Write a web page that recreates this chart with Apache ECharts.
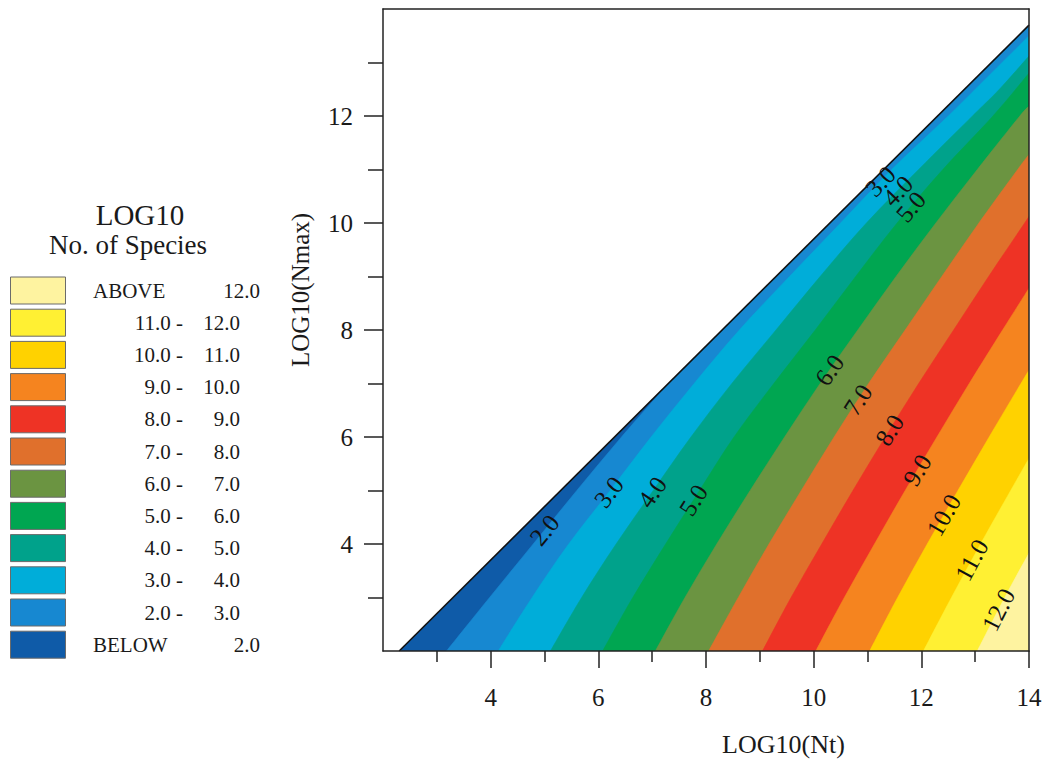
<!DOCTYPE html>
<html>
<head>
<meta charset="utf-8">
<script src="https://cdn.jsdelivr.net/npm/echarts@6/dist/echarts.min.js"></script>
<style>
html, body { margin: 0; padding: 0; background: #ffffff; }
#chart { width: 1042px; height: 760px; }
</style>
</head>
<body>
<div id="chart"></div>
<script>
// Contour levels of log10(number of species)
const levels = [2, 3, 4, 5, 6, 7, 8, 9, 10, 11, 12];

// Fill colour of each band, from "below 2.0" up to "above 12.0"
const bandColors = ['#0F5BA8', '#1788D1', '#00ADD9', '#00A28B', '#00A651', '#6B9441',
                    '#E0702C', '#EE3325', '#F5841F', '#FFD200', '#FFF033', '#FEF3A0'];

// Axis ranges and labelled ticks
const xRange = [2, 14];
const yRange = [2, 14];
const xTickLabels = [4, 6, 8, 10, 12, 14];
const yTickLabels = [4, 6, 8, 10, 12];

// Upper limit of the valid region: Nmax = Nt / 2
const limitLine = [[2.301, 2], [14, 13.699]];

// Contour lines as [log10(Nt), log10(Nmax)], from the bottom edge upward
const contour2 = [[3.18, 2], [3.98, 3], [4.79, 4], [5.60, 5], [6.43, 6], [7.30, 7]];
const contour3 = [[4.14, 2], [4.77, 3], [5.45, 4], [6.22, 5], [6.98, 6], [7.78, 7], [8.62, 8],
                  [9.55, 9], [10.50, 10], [11.45, 11], [12.50, 12], [13.50, 13], [14, 13.5]];
const contour4 = [[5.11, 2], [5.69, 3], [6.33, 4], [7.02, 5], [7.72, 6], [8.48, 7], [9.30, 8],
                  [10.12, 9], [10.98, 10], [11.95, 11], [12.95, 12], [13.45, 12.5], [14, 13.12]];
const contour5 = [[6.08, 2], [6.64, 3], [7.25, 4], [7.88, 5], [8.52, 6], [9.26, 7], [10.03, 8],
                  [10.78, 9], [11.55, 10], [12.40, 11], [13.33, 12], [14, 12.8]];
const contour6 = [[7.06, 2], [7.61, 3], [8.20, 4], [8.82, 5], [9.46, 6], [10.12, 7], [10.82, 8],
                  [11.53, 9], [12.27, 10], [13.04, 11], [13.83, 12], [14, 12.18]];
const contour7 = [[8.05, 2], [8.60, 3], [9.17, 4], [9.77, 5], [10.38, 6], [11.02, 7], [11.70, 8],
                  [12.38, 9], [13.07, 10], [13.79, 11], [14, 11.28]];
const contour8 = [[9.05, 2], [9.58, 3], [10.15, 4], [10.73, 5], [11.33, 6], [11.95, 7], [12.60, 8],
                  [13.25, 9], [13.92, 10], [14, 10.12]];
const contour9 = [[10.04, 2], [10.57, 3], [11.13, 4], [11.70, 5], [12.29, 6], [12.89, 7], [13.51, 8],
                  [14, 8.78]];
const contour10 = [[11.04, 2], [11.56, 3], [12.11, 4], [12.68, 5], [13.26, 6], [13.85, 7], [14, 7.25]];
const contour11 = [[12.04, 2], [12.56, 3], [13.10, 4], [13.66, 5], [14, 5.6]];
const contour12 = [[13.04, 2], [13.55, 3], [14, 3.83]];

const contours = [contour2, contour3, contour4, contour5, contour6, contour7,
                  contour8, contour9, contour10, contour11, contour12];

// In-line contour labels: level and the log10(Nmax) where each sits
const labelLevels = [2, 3, 4, 5, 3, 4, 5, 6, 7, 8, 9, 10, 11, 12];
const labelYs = [4.26, 4.97, 4.97, 4.82, 10.78, 10.60, 10.30, 7.25, 6.69, 6.13, 5.38, 4.54, 3.70, 2.77];

const serif = 'Liberation Serif';
const ink = '#1a1a1a';

// Smooth path through pixel points (Catmull-Rom as cubic Bezier segments)
function smoothPath(pts) {
  let d = 'M' + pts[0][0] + ' ' + pts[0][1];
  for (let i = 0; i < pts.length - 1; i++) {
    const p0 = pts[Math.max(i - 1, 0)], p1 = pts[i], p2 = pts[i + 1];
    const p3 = pts[Math.min(i + 2, pts.length - 1)];
    const c1 = [p1[0] + (p2[0] - p0[0]) / 6, p1[1] + (p2[1] - p0[1]) / 6];
    const c2 = [p2[0] - (p3[0] - p1[0]) / 6, p2[1] - (p3[1] - p1[1]) / 6];
    d += ' C' + c1[0] + ' ' + c1[1] + ' ' + c2[0] + ' ' + c2[1] + ' ' + p2[0] + ' ' + p2[1];
  }
  return d;
}

// Region right of / below a contour, closed along the limit line and the right edge
function bandPath(idx, api) {
  const corner = api.coord([xRange[1], yRange[0]]);
  if (idx === 0) {
    const a = api.coord(limitLine[0]), b = api.coord(limitLine[1]);
    return 'M' + a[0] + ' ' + a[1] + ' L' + b[0] + ' ' + b[1] + ' L' + corner[0] + ' ' + corner[1] + ' Z';
  }
  const c = contours[idx - 1];
  let d = smoothPath(c.map(p => api.coord(p)));
  if (c[c.length - 1][0] < xRange[1]) {
    const b = api.coord(limitLine[1]);
    d += ' L' + b[0] + ' ' + b[1];
  }
  return d + ' L' + corner[0] + ' ' + corner[1] + ' Z';
}

// Unshaded region above the limit line
function emptyRegion(api) {
  return [api.coord([xRange[0], yRange[0]]), api.coord(limitLine[0]), api.coord(limitLine[1]),
          api.coord([xRange[1], yRange[1]]), api.coord([xRange[0], yRange[1]])];
}

// Point on a contour at a given log10(Nmax), with the segment it lies on
function onContour(c, y) {
  for (let i = 0; i < c.length - 1; i++) {
    const a = c[i], b = c[i + 1];
    if (y >= a[1] && y <= b[1]) {
      const t = (y - a[1]) / (b[1] - a[1]);
      return { p: [a[0] + t * (b[0] - a[0]), y], a: a, b: b };
    }
  }
  return { p: c[c.length - 1], a: c[c.length - 2], b: c[c.length - 1] };
}

// Legend rows, top to bottom
const legendLeft = ['ABOVE'];
const legendRight = [levels[levels.length - 1].toFixed(1)];
for (let i = levels.length - 2; i >= 0; i--) {
  legendLeft.push(levels[i].toFixed(1) + ' -');
  legendRight.push(levels[i + 1].toFixed(1));
}
legendLeft.push('BELOW');
legendRight.push(levels[0].toFixed(1));

function textStyle(text, size, align) {
  return { text: text, font: size + 'px ' + serif, fill: ink,
    align: align, textAlign: align, verticalAlign: 'middle', textVerticalAlign: 'middle' };
}

const legendGraphics = [
  { type: 'text', x: 140, y: 215, style: textStyle('LOG10', 29, 'center') },
  { type: 'text', x: 128, y: 245, style: textStyle('No. of Species', 27, 'center') }
];
legendLeft.forEach((txt, i) => {
  const top = 277 + i * 32.2;
  const cy = top + 13.5;
  const colour = bandColors[bandColors.length - 1 - i];
  const edge = (i === 0 || i === legendLeft.length - 1);
  legendGraphics.push({ type: 'rect', shape: { x: 10.5, y: top, width: 55, height: 27 },
    style: { fill: colour, stroke: '#6b6b6b', lineWidth: 1 } });
  legendGraphics.push({ type: 'text', x: edge ? 93 : 183, y: cy,
    style: textStyle(txt, 21, edge ? 'left' : 'right') });
  legendGraphics.push({ type: 'text', x: edge ? 260 : 240, y: cy,
    style: textStyle(legendRight[i], 21, 'right') });
});

const axisColor = '#222222';
const chart = echarts.init(document.getElementById('chart'), null, { renderer: 'svg' });

chart.setOption({
  animation: false,
  backgroundColor: '#ffffff',
  grid: { left: 383, top: 9, width: 646, height: 642, containLabel: false, outerBoundsMode: 'none' },
  xAxis: [{
    type: 'value', min: xRange[0], max: xRange[1], interval: 2, z: 10,
    name: 'LOG10(Nt)', nameLocation: 'middle', nameGap: 80,
    nameTextStyle: { fontFamily: serif, fontSize: 26, color: ink, padding: [0, 0, 0, 155] },
    axisLine: { show: true, onZero: false, lineStyle: { color: axisColor, width: 1.5 } },
    axisTick: { show: true, length: 17, customValues: xTickLabels, lineStyle: { color: axisColor, width: 1.5 } },
    minorTick: { show: true, splitNumber: 2, length: 11, lineStyle: { color: axisColor, width: 1.5 } },
    axisLabel: { customValues: xTickLabels, margin: 34, fontFamily: serif, fontSize: 25, color: ink },
    splitLine: { show: false }, minorSplitLine: { show: false }
  }, {
    type: 'value', position: 'top', min: xRange[0], max: xRange[1], z: 10,
    axisLine: { show: true, onZero: false, lineStyle: { color: axisColor, width: 1.5 } },
    axisTick: { show: false }, axisLabel: { show: false }, splitLine: { show: false }
  }],
  yAxis: [{
    type: 'value', min: yRange[0], max: yRange[1], interval: 2, z: 10,
    name: 'LOG10(Nmax)', nameLocation: 'middle', nameGap: 70, nameRotate: 90,
    nameTextStyle: { fontFamily: serif, fontSize: 25, color: ink, padding: [0, 0, 0, 80] },
    axisLine: { show: true, onZero: false, lineStyle: { color: axisColor, width: 1.5 } },
    axisTick: { show: true, length: 19, customValues: yTickLabels, lineStyle: { color: axisColor, width: 1.5 } },
    minorTick: { show: true, splitNumber: 2, length: 15, lineStyle: { color: axisColor, width: 1.5 } },
    axisLabel: { customValues: yTickLabels, margin: 30, fontFamily: serif, fontSize: 25, color: ink },
    splitLine: { show: false }, minorSplitLine: { show: false }
  }, {
    type: 'value', position: 'right', min: yRange[0], max: yRange[1], z: 10,
    axisLine: { show: true, onZero: false, lineStyle: { color: axisColor, width: 1.5 } },
    axisTick: { show: false }, axisLabel: { show: false }, splitLine: { show: false }
  }],
  graphic: legendGraphics,
  series: [{
    // filled contour bands, then the unshaded region above the limit line
    type: 'custom',
    clip: true,
    silent: true,
    data: bandColors.concat(['#ffffff']).map(() => [xRange[1], yRange[0]]),
    renderItem: function (params, api) {
      const i = params.dataIndex;
      if (i === bandColors.length) {
        return { type: 'polygon', shape: { points: emptyRegion(api) },
          style: { fill: '#ffffff', stroke: null } };
      }
      return {
        type: 'path',
        shape: { pathData: bandPath(i, api) },
        style: { fill: bandColors[i], stroke: bandColors[i], lineWidth: 0.6 }
      };
    }
  }, {
    // Nmax = Nt / 2 limit
    type: 'line',
    data: limitLine,
    symbol: 'none',
    silent: true,
    z: 5,
    lineStyle: { color: '#111111', width: 1.6 }
  }, {
    // contour level labels
    type: 'custom',
    silent: true,
    z: 6,
    data: labelLevels.map((lv, i) => [lv, labelYs[i]]),
    renderItem: function (params, api) {
      const lv = labelLevels[params.dataIndex];
      const hit = onContour(contours[levels.indexOf(lv)], labelYs[params.dataIndex]);
      const pos = api.coord(hit.p);
      const pa = api.coord(hit.a), pb = api.coord(hit.b);
      const angle = Math.atan2(pa[1] - pb[1], pb[0] - pa[0]);
      return {
        type: 'text',
        x: pos[0], y: pos[1], rotation: angle,
        style: { text: lv.toFixed(1), font: '25px ' + serif, fill: '#111111',
          align: 'center', verticalAlign: 'middle', textAlign: 'center', textVerticalAlign: 'middle' }
      };
    }
  }]
});
</script>
</body>
</html>
